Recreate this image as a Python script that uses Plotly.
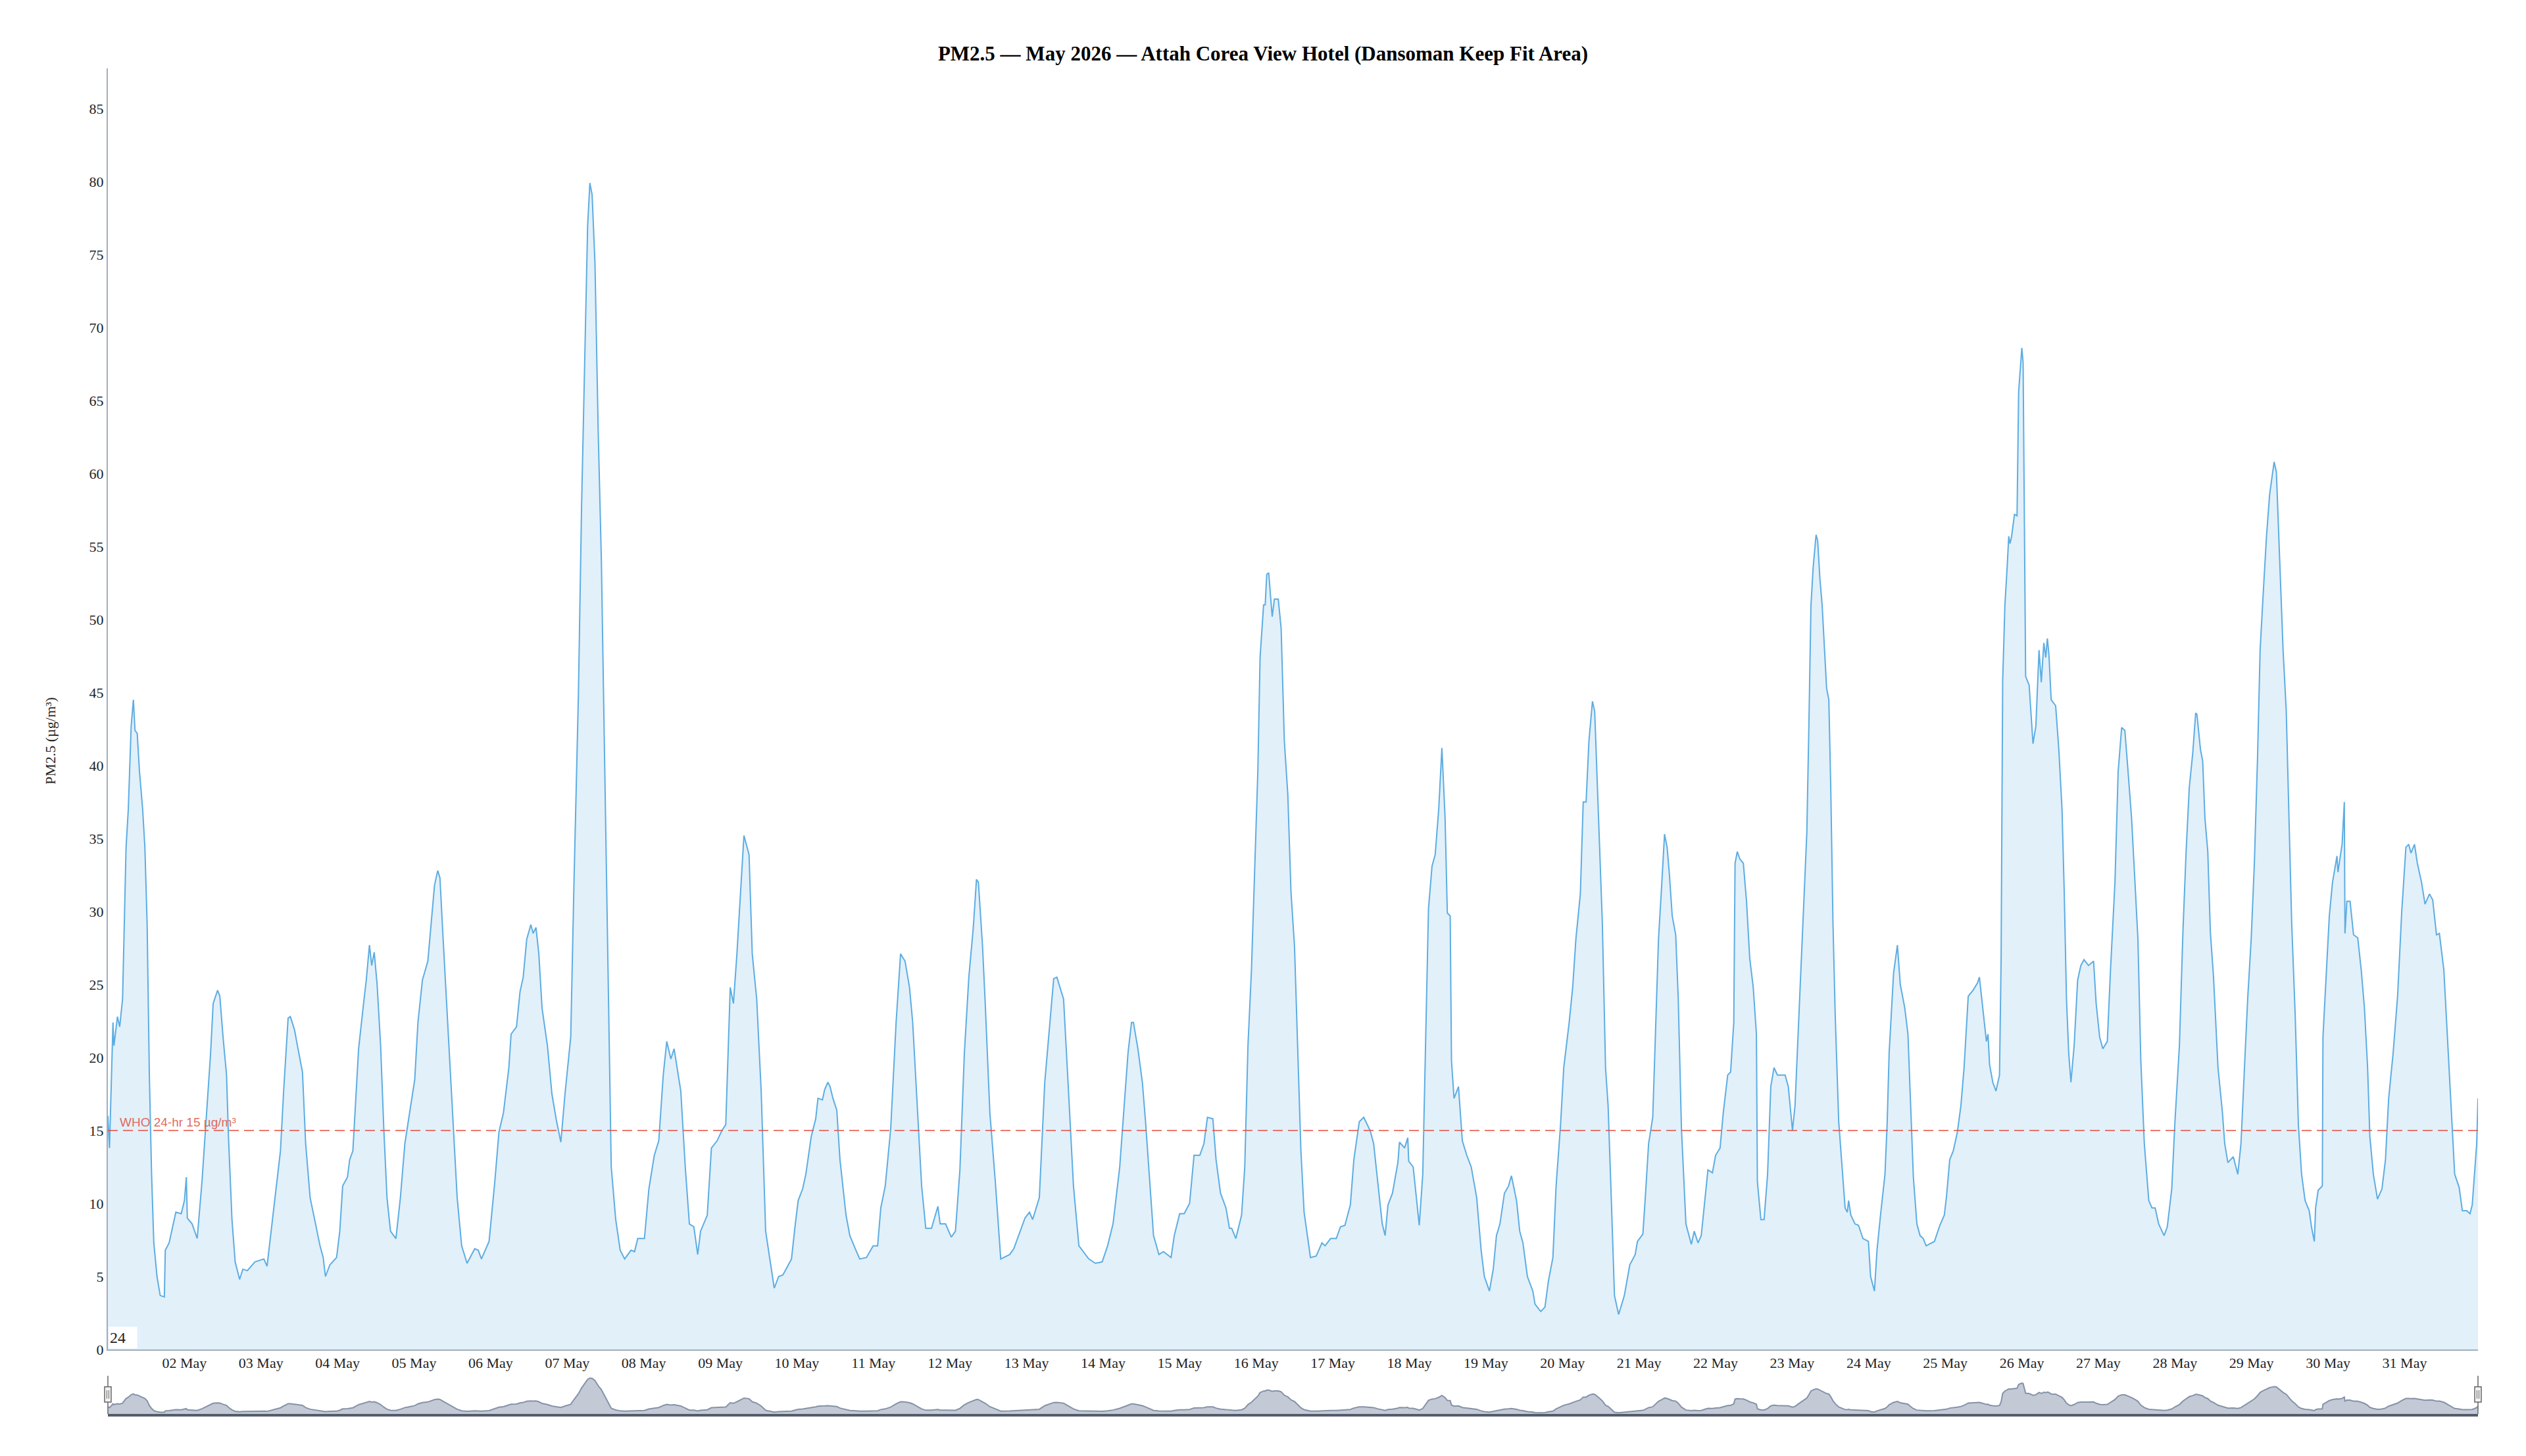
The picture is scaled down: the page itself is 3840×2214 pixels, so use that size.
import pandas as pd
import plotly.graph_objects as go

# ---- data ----
start = "2026-05-01 00:00"
hours_since_start = [
    0, 0.5, 1.6, 1.9, 3.0, 3.7, 4.6, 5.7, 6.4, 7.3, 8.0, 8.5, 9.2, 9.9, 10.9, 11.6, 12.3, 13.0, 13.7, 14.4,
    15.4, 16.4, 17.7, 18.0, 19.2, 21.3, 23.0, 24.0, 24.6, 24.9, 26.4, 28.0, 29.5, 30.9, 32.2, 33.0, 34.4, 35.1,
    36.1, 37.2, 37.8, 38.9, 39.9, 41.3, 42.3, 43.7, 46.1, 48.9, 49.9, 51.6, 54.1, 55.1, 56.5, 57.2, 58.5, 59.6,
    61.0, 62.0, 63.4, 65.1, 66.5, 67.5, 68.2, 69.6, 71.7, 72.7, 73.6, 75.1, 75.8, 76.8, 78.6, 80.0, 81.0, 82.0,
    82.7, 83.5, 84.4, 85.5, 86.5, 87.5, 88.6, 90.3, 91.7, 93.1, 94.4, 96.2, 97.2, 98.6, 100.3, 101.3, 102.4,
    103.4, 104.1, 105.1,
    106.8, 108.1, 109.5, 110.9, 112.6, 115.0, 116.1, 117.1, 119.5, 121.3, 122.6, 124.0, 125.7, 126.4, 128.1,
    129.2, 130.2, 131.3, 132.6, 133.3, 134.2, 135.1, 136.1, 137.8, 139.2, 140.6, 142.0, 143.3, 145.1, 146.1,
    147.5, 148.5, 149.5, 150.4, 151.1, 151.8, 152.7, 153.7, 154.7, 155.8, 156.8, 157.8, 159.2, 160.6, 162.0,
    164.0, 165.1, 166.1, 168.2, 169.6, 171.3, 172.7, 174.1, 175.2, 176.5, 177.5, 179.6, 181.0, 182.3, 183.7,
    184.9, 185.8, 187.9, 189.2, 191.0, 192.5, 193.7, 195.1, 196.1, 197.2, 198.6, 199.4, 201.0, 202.0, 203.4,
    204.8, 206.2, 207.5, 208.9, 210.3,
    211.6, 212.6, 214.3, 215.4, 216.4, 217.8, 218.8, 220.5, 221.9, 222.6, 224.0, 224.7, 225.7, 226.4, 227.3,
    228.5, 229.5, 231.4, 232.6, 234.3, 235.7, 237.8, 239.9, 241.3, 242.3, 243.7, 245.4, 247.1, 248.5, 249.9,
    251.3, 252.3, 254.0, 255.1, 256.4, 258.2, 260.2, 260.9, 262.6, 264.4, 265.7, 267.1, 268.5, 269.9, 271.3,
    272.3, 272.9, 274.2, 275.1, 276.5, 278.2, 279.9, 282.7, 284.0, 287.5, 288.9, 289.9, 292.0, 293.7, 295.4,
    296.5, 297.5, 299.6, 301.0, 302.7, 304.4, 307.5, 309.6, 311.7, 313.4, 315.1, 317.2,
    318.8, 319.8, 320.9, 321.5, 322.9, 324.3, 325.3, 326.7, 327.8, 329.5, 330.9, 333.3, 334.3, 336.0, 337.4,
    339.1, 340.5, 342.3, 343.6, 344.7, 346.4, 347.4, 348.8, 350.5, 351.6, 352.3, 353.6, 355.4, 356.4, 357.4,
    358.5, 359.5, 360.5, 361.2, 362.3, 362.8, 363.3, 363.9, 365.0, 365.7, 366.9, 367.8, 368.8, 369.9, 370.9,
    372.0, 373.0, 374.0, 375.0, 377.0, 378.8, 380.6, 381.6, 383.3, 385.1, 386.4, 387.8, 389.5, 390.6, 392.3,
    393.7, 395.7, 396.8, 398.2, 399.5, 400.4, 401.3, 402.7, 404.4, 404.9, 406.5, 407.5, 407.8, 409.2, 410.3,
    411.1, 412.2, 413.0, 414.0, 415.1, 416.1, 417.2, 418.2, 419.2, 419.9, 420.8, 421.2, 422.0, 423.4,
    424.6, 426.0, 427.4, 429.1, 430.5, 431.5, 433.1, 434.3, 435.3, 436.4, 437.8, 439.1, 440.0, 441.6, 442.6,
    443.6, 445.0, 446.7, 447.4, 449.2, 450.5, 451.6, 453.0, 454.0, 455.4, 456.4, 458.1, 459.2, 460.2, 461.6,
    462.5, 463.4, 464.3, 465.4, 466.1, 467.1, 468.5, 469.5, 470.3, 471.2, 472.3, 473.6, 475.4, 477.1, 478.8,
    479.5, 481.2, 481.9, 483.0, 484.3, 485.2, 486.1, 487.1, 488.0, 488.8, 489.5, 490.4, 491.5, 492.3, 493.3,
    494.7, 496.4, 497.3, 498.5, 499.5, 500.6, 501.6, 503.0, 504.0, 505.4, 506.4, 507.8, 508.7, 509.7, 510.1,
    510.8, 511.6, 512.7, 513.7, 514.7, 515.8, 516.8, 517.1, 518.2, 519.2, 520.3, 521.3, 522.3, 523.4, 524.7,
    525.8, 526.8, 528.1, 528.9, 530.3,
    531.5, 532.6, 533.2, 533.9, 534.6, 535.5, 536.0, 536.7, 537.4, 538.1, 538.8, 539.5, 540.1, 540.8, 541.5,
    542.6, 543.6, 544.6, 545.3, 545.7, 546.4, 547.7, 548.8, 550.2, 551.9, 552.6, 553.8, 554.6, 555.7, 557.1,
    557.8, 558.4, 559.8, 561.0, 561.9, 563.3, 564.3, 565.0, 566.0, 567.1, 568.1, 569.1, 570.0, 572.6, 574.3,
    575.7, 576.4, 577.4, 578.5, 579.8, 580.9, 581.9, 583.2, 584.7, 586.1, 586.7, 587.8, 588.9, 589.4, 589.9,
    590.9, 591.9, 593.0, 593.5, 594.0, 594.7, 595.4, 595.9, 596.3, 596.8, 597.7, 598.5, 599.0, 600.0, 600.4,
    600.9, 601.2, 602.3, 603.5, 604.4, 605.4, 606.1, 606.9, 607.5, 608.0, 608.5, 609.2, 610.6, 611.6, 612.6,
    613.3, 614.0, 614.7, 615.4, 616.4, 617.5, 618.5, 619.5, 620.9, 622.5, 623.3, 624.4, 625.4, 626.8, 627.8,
    629.2, 630.2, 631.3, 632.3, 633.3, 634.4, 635.4, 636.4,
    637.3, 638.4, 639.8, 640.8, 641.8, 642.9, 644.6, 645.6, 647.0, 648.0, 649.4, 650.5, 651.5, 652.5, 653.6,
    654.5, 654.9, 656.0, 656.7, 657.4, 658.3, 659.1, 660.1, 661.5, 662.9, 663.6, 664.6, 666.3, 667.7, 668.7,
    669.8, 670.8, 671.9, 672.9, 673.9, 674.7, 675.6, 676.7, 677.7, 678.5, 679.1, 679.8, 680.8, 681.9, 682.9,
    683.8, 684.6, 685.7, 686.7, 687.7, 688.8, 690.1, 690.8, 691.7, 692.1, 692.9, 694.2, 694.4, 695.3, 696.4,
    697.4, 698.4, 698.8, 699.1, 700.4, 701.1, 701.3, 701.9, 702.9, 704.0, 705.3, 706.4, 707.4, 708.4, 709.1,
    710.2, 711.5, 712.9, 714.0, 715.0, 716.4, 717.8, 719.1, 720.4, 721.3, 722.0, 723.1, 724.0, 725.3, 726.4,
    727.8, 728.8, 730.0, 730.9, 732.3, 733.3, 734.3, 735.7, 737.1, 738.1, 739.5, 740.5, 741.2, 742.6, 743.0,
]
pm25 = [
    16.0, 13.8, 22.4, 20.8, 22.8, 22.1, 24.0, 34.4, 37.0, 42.7, 44.5, 42.4, 42.2, 39.6, 37.0, 34.4, 29.2, 18.8, 12.0, 7.3,
    5.0, 3.7, 3.6, 6.8, 7.3, 9.4, 9.3, 10.2, 11.8, 9.0, 8.6, 7.6, 11.5, 16.2, 20.3, 23.7, 24.6, 24.2,
    21.4, 18.8, 14.6, 8.9, 6.0, 4.8, 5.5, 5.4, 6.0, 6.2, 5.7, 8.9, 13.6, 17.7, 22.7, 22.8, 21.9, 20.6,
    19.0, 14.1, 10.4, 8.6, 7.1, 6.3, 5.0, 5.8, 6.3, 8.1, 11.2, 11.8, 13.0, 13.6, 20.6, 23.4, 25.3, 27.7,
    26.3, 27.2, 25.0, 20.8, 15.1, 10.4, 8.1, 7.6, 10.4, 14.1, 15.9, 18.5, 22.4, 25.3, 26.6, 29.2, 31.8,
    32.8, 32.3, 28.1,
    21.4, 16.2, 10.4, 7.1, 5.9, 6.9, 6.8, 6.2, 7.4, 11.5, 14.9, 16.2, 19.3, 21.6, 22.1,
    24.5, 25.5, 28.1, 29.1, 28.5, 28.9, 27.1, 23.4, 20.8, 17.5, 15.7, 14.2, 17.5, 21.4, 31.8,
    44.8, 57.8, 68.2, 77.0, 79.9, 79.1, 74.4, 63.0, 54.1, 39.6, 26.6, 12.5, 8.9, 6.8, 6.2,
    6.8, 6.7, 7.6, 7.6, 11.0, 13.3, 14.3, 18.8, 21.1, 19.9, 20.6, 17.7, 12.5, 8.6, 8.4,
    6.5, 8.1, 9.2, 13.8, 14.3, 15.0, 15.4, 24.8, 23.7, 27.1, 32.3, 35.2, 33.9, 27.1, 24.0,
    17.7, 8.1, 6.3, 4.2, 5.0,
    5.1, 5.5, 6.2, 8.4, 10.2, 11.0, 12.0, 14.6, 15.8, 17.2, 17.1, 17.8, 18.3, 18.0, 17.2,
    16.4, 13.0, 9.2, 7.8, 6.9, 6.2, 6.3, 7.1, 7.1, 9.7, 11.2, 15.1, 22.4, 27.1, 26.6,
    24.8, 22.4, 15.6, 11.2, 8.3, 8.3, 9.8, 8.6, 8.6, 7.7, 8.1, 12.3, 20.3, 25.5, 28.9,
    32.2, 32.0, 27.6, 23.4, 16.2, 11.5, 6.2, 6.5, 6.9, 9.0, 9.4, 8.9, 10.4, 18.3, 22.7,
    25.4, 25.5, 24.0, 18.3, 11.2, 7.1, 6.2, 5.9, 6.0, 7.1, 8.6, 12.5,
    17.2, 20.3, 22.4, 22.4, 20.6, 18.3, 15.6, 11.2, 7.8, 6.5, 6.7, 6.3, 7.8, 9.3, 9.3,
    10.0, 13.3, 13.3, 14.1, 15.9, 15.8, 13.0, 10.7, 9.7, 8.3, 8.3, 7.6, 9.2, 12.5, 20.8,
    26.0, 32.8, 39.6, 47.4, 51.0, 51.0, 53.1, 53.2, 50.2, 51.4, 51.4, 49.4, 41.7, 38.0, 31.3,
    27.6, 20.8, 13.6, 9.4, 6.3, 6.4, 7.3, 7.1, 7.6, 7.6, 8.4, 8.5, 9.9, 13.0, 15.6,
    15.9, 15.0, 14.1, 11.2, 8.6, 7.8, 9.9, 10.7, 12.8, 14.2, 13.8, 14.5, 12.9, 12.5, 10.2,
    8.5, 12.0, 19.8, 30.2, 33.1, 33.9, 37.0, 41.2, 36.4, 29.9, 29.7, 19.8, 17.2, 18.0,
    14.3, 13.3, 12.5, 10.4, 6.8, 5.0, 4.0, 5.5, 7.8, 8.6, 10.7, 11.2, 11.9, 10.2, 8.1,
    7.3, 5.0, 4.0, 3.1, 2.6, 2.9, 4.7, 6.3, 11.2, 15.4, 19.3, 22.4, 24.8, 28.1, 31.2,
    37.5, 37.5, 41.7, 44.4, 43.7, 38.0, 29.2, 19.3, 16.7, 11.0, 3.7, 2.4, 3.7, 5.8, 6.5,
    7.4, 7.9, 10.2, 14.1, 15.9, 22.4, 28.1, 31.8, 35.3, 34.4, 32.6, 29.7, 28.4, 24.0, 15.1,
    8.6, 7.2, 8.1, 7.3, 7.8, 10.2, 12.3, 12.1, 13.3, 13.8, 16.2, 18.8, 19.0, 22.4, 33.3,
    34.1, 33.6, 33.3, 30.7, 26.8, 24.8, 21.6, 11.5, 8.9, 8.9, 12.0, 18.0, 19.3, 18.8, 18.8,
    18.8, 18.0, 15.0, 16.7, 24.0,
    29.7, 35.4, 42.2, 51.0, 53.6, 55.8, 55.4, 52.8, 51.0, 48.4, 45.3, 44.5, 38.5, 29.2, 22.9,
    15.6, 12.5, 9.7, 9.4, 10.2, 9.2, 8.6, 8.5, 7.6, 7.4, 5.0, 4.0, 6.8, 9.2, 12.0,
    15.6, 20.3, 25.8, 27.7, 25.0, 23.4, 21.6, 17.2, 11.8, 8.6, 7.8, 7.6, 7.1, 7.4, 8.5,
    9.2, 10.5, 13.0, 13.6, 14.9, 16.7, 19.3, 24.2, 24.6, 25.1, 25.5, 23.4, 21.1, 21.6, 19.5,
    18.3, 17.7, 18.8, 26.6, 45.8, 51.0, 53.6, 55.7, 55.2, 55.7, 57.2, 57.1, 65.6, 68.6, 67.6,
    55.2, 46.1, 45.5, 41.5, 42.7, 47.9, 45.7, 48.4, 47.4, 48.7, 47.6, 44.5, 44.1, 41.1, 37.0,
    31.3, 24.0, 20.3, 18.3, 20.8, 25.3, 26.3, 26.7, 26.3, 26.6, 23.7, 21.4, 20.6, 21.1, 26.0,
    32.0, 39.6, 42.6, 42.4, 39.6, 36.4, 32.3, 28.1,
    19.8, 14.1, 10.2, 9.7, 9.7, 8.6, 7.8, 8.4, 11.0, 15.6, 20.8, 28.6, 34.1, 38.5, 40.9,
    43.6, 43.5, 41.1, 40.3, 36.4, 34.1, 28.6, 25.5, 19.3, 16.2, 14.1, 12.8, 13.2, 12.0, 14.1,
    19.3, 24.0, 28.1, 33.3, 40.6, 47.9, 51.5, 55.7, 58.6, 59.9, 60.8, 60.1, 54.1, 47.9, 43.7,
    35.4, 29.2, 22.9, 15.4, 12.0, 10.2, 9.5, 8.4, 7.4, 9.7, 10.9, 11.2, 21.4, 25.0, 29.7,
    32.0, 33.3, 33.8, 32.7, 34.6, 37.5, 28.5, 30.7, 30.7, 28.4, 28.2, 26.0, 23.4, 19.3, 14.6,
    12.0, 10.3, 11.0, 13.0, 17.2, 20.3, 24.2, 30.0, 34.4, 34.6, 34.0, 34.6, 33.3, 32.0, 30.5,
    31.2, 30.8, 28.4, 28.5, 26.0, 21.9, 17.7, 12.0, 11.1, 9.5, 9.5, 9.3, 9.9, 14.1, 17.2,
]
tick_days = list(range(2, 32))
tick_labels = [f"{d:02d} May" for d in tick_days]
who_limit = 15
range_end_hours = 743

# ---- build ----
t0 = pd.Timestamp(start)
times = t0 + pd.to_timedelta(hours_since_start, unit="h")
x_end = t0 + pd.to_timedelta(range_end_hours, unit="h")
tickvals = [pd.Timestamp(2026, 5, d) for d in tick_days]

SERIF = "Liberation Serif, Times New Roman, serif"

fig = go.Figure()
fig.add_trace(go.Scatter(
    x=times, y=pm25, mode="lines",
    line=dict(color="#5dade2", width=2),
    fill="tozeroy", fillcolor="rgba(93,173,226,0.18)",
    xaxis="x", yaxis="y", showlegend=False, hoverinfo="x+y",
))
# navigator series
fig.add_trace(go.Scatter(
    x=times, y=pm25, mode="lines",
    line=dict(color="#8592a8", width=2),
    fill="tozeroy", fillcolor="rgba(170,179,197,0.7)",
    xaxis="x2", yaxis="y2", showlegend=False, hoverinfo="skip",
))

# page body has an 8px margin; figure is sized to fit inside the window
OFF = 8
W, H = 3840 - 2 * OFF, 2214 - 2 * OFF
left, right = 164 - OFF, 3767 - OFF
top, bottom_main, nav_top, nav_bottom = 104 - OFF, 2052 - OFF, 2092 - OFF, 2150 - OFF
plot_w = right - left
plot_h = nav_bottom - top
main_dom0 = (nav_bottom - bottom_main) / plot_h
nav_dom1 = (nav_bottom - nav_top) / plot_h

axis_col = "#a3adba"
fig.update_layout(
    width=W, height=H,
    margin=dict(l=left, r=W - right, t=top, b=H - nav_bottom),
    paper_bgcolor="white", plot_bgcolor="white",
    font=dict(family=SERIF, size=22, color="#222"),
    title=dict(
        text="<b>PM2.5 — May 2026 — Attah Corea View Hotel (Dansoman Keep Fit Area)</b>",
        x=0.5, xanchor="center", xref="container",
        y=1 - (81 - OFF) / H, yref="container", yanchor="middle",
        font=dict(family=SERIF, size=31, color="#000"),
    ),
    xaxis=dict(
        type="date", range=[t0, x_end], domain=[0, 1], anchor="y",
        tickvals=tickvals, ticktext=tick_labels,
        showgrid=False, zeroline=False, showline=True, linecolor=axis_col, linewidth=2,
        ticks="", tickfont=dict(family=SERIF, size=22, color="#222"),
    ),
    yaxis=dict(
        range=[0, 87.75], domain=[main_dom0, 1], anchor="x",
        tick0=0, dtick=5, showgrid=False, zeroline=False,
        showline=True, linecolor=axis_col, linewidth=2, ticks="",
        tickfont=dict(family=SERIF, size=22, color="#222"),
    ),
    xaxis2=dict(
        type="date", range=[t0, x_end], domain=[0, 1], anchor="y2",
        showticklabels=False, showgrid=False, zeroline=False,
        showline=True, linecolor="#555d6b", linewidth=4, ticks="",
    ),
    yaxis2=dict(
        range=[0, 85], domain=[0, nav_dom1], anchor="x2",
        showticklabels=False, showgrid=False, zeroline=False, showline=False,
    ),
)

# WHO line
fig.add_shape(type="line", xref="paper", x0=0, x1=1, yref="y", y0=who_limit, y1=who_limit,
              line=dict(color="rgba(231,76,60,0.75)", width=2, dash="15px,8px"))
fig.add_annotation(text="WHO 24-hr 15 µg/m³", xref="paper", x=16 / plot_w, xanchor="left",
                   yref="y", y=who_limit, yanchor="bottom", showarrow=False,
                   font=dict(family="Liberation Sans, Arial, sans-serif", size=19,
                             color="rgba(225,85,70,0.9)"))

# y-axis title
fig.add_annotation(text="PM2.5 (µg/m³)", xref="paper", x=(76 - 164) / plot_w, xanchor="center",
                   yref="paper", y=0.5, yanchor="middle", textangle=-90, showarrow=False,
                   font=dict(family=SERIF, size=22, color="#222"))

# stray "24" label box at bottom-left
fig.add_annotation(text="24", xref="paper", x=0, xanchor="left", xshift=1,
                   yref="y", y=0, yanchor="bottom", yshift=1, showarrow=False,
                   bgcolor="white", width=40, height=30, align="left",
                   font=dict(family=SERIF, size=24, color="#222"))

# navigator outline and handles
for xp in (0, 1):
    fig.add_shape(type="line", xref="paper", x0=xp, x1=xp, yref="y2 domain", y0=0, y1=1,
                  line=dict(color="#666", width=1.5))
    hw = 5 / plot_w
    fig.add_shape(type="rect", xref="paper", x0=xp - hw, x1=xp + hw,
                  yref="y2 domain", y0=0.31, y1=0.71,
                  line=dict(color="#666", width=1.5), fillcolor="#f2f2f2")
    for dx in (-1.5 / plot_w, 1.5 / plot_w):
        fig.add_shape(type="line", xref="paper", x0=xp + dx, x1=xp + dx,
                      yref="y2 domain", y0=0.4, y1=0.62,
                      line=dict(color="#666", width=1))

fig.write_html("out.html")
